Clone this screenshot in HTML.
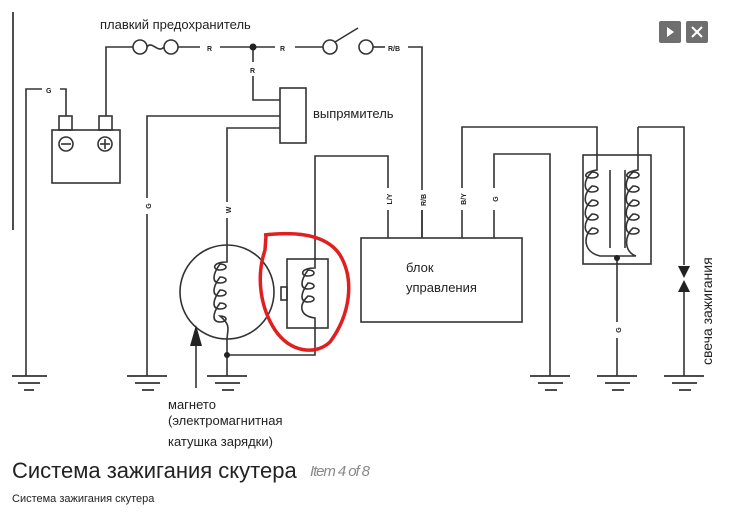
<!DOCTYPE html>
<html><head><meta charset="utf-8"><style>
html,body{margin:0;padding:0;background:#fff;width:732px;height:516px;overflow:hidden}
svg{position:absolute;left:0;top:0}
.t{font-family:"Liberation Sans","DejaVu Sans",sans-serif;fill:#222}
</style></head><body>
<svg width="732" height="516" viewBox="0 0 732 516">
<g stroke="#333" stroke-width="1.6" fill="none">
<line x1="13" y1="12" x2="13" y2="230" stroke="#222" stroke-width="1.6"/>
<!-- battery -->
<rect x="52" y="130" width="68" height="53"/>
<rect x="59" y="116" width="13" height="14"/>
<rect x="99" y="116" width="13" height="14"/>
<circle cx="66" cy="144" r="7"/><line x1="61" y1="144" x2="71" y2="144"/>
<circle cx="105" cy="144" r="7"/><line x1="100" y1="144" x2="110" y2="144"/><line x1="105" y1="139" x2="105" y2="149"/>
<polyline points="66,116 66,89 60,89"/>
<polyline points="42,89 26,89 26,376"/>
<polyline points="106,116 106,47 133,47"/>
<circle cx="140" cy="47" r="7"/><circle cx="171" cy="47" r="7"/>
<path d="M147,47 C152,40 158,54 164,47"/>
<line x1="178" y1="47" x2="200" y2="47"/><line x1="220" y1="47" x2="275" y2="47"/>
<line x1="295" y1="47" x2="323" y2="47"/>
<circle cx="330" cy="47" r="7"/><line x1="335" y1="42" x2="358" y2="28"/>
<circle cx="366" cy="47" r="7"/><line x1="373" y1="47" x2="385" y2="47"/>
<polyline points="408,47 422,47 422,190"/><line x1="422" y1="210" x2="422" y2="238"/>
<line x1="253" y1="47" x2="253" y2="62"/>
<polyline points="253,76 253,100 280,100"/>
<rect x="280" y="88" width="26" height="55"/>
<polyline points="280,116 147,116 147,198"/><line x1="147" y1="214" x2="147" y2="376"/>
<polyline points="280,128 227,128 227,202"/><line x1="227" y1="218" x2="227" y2="245"/>
<!-- control block -->
<rect x="361" y="238" width="161" height="84"/>
<polyline points="388,238 388,210"/><polyline points="388,188 388,156 315,156 315,259"/>
<line x1="422" y1="238" x2="422" y2="210"/>
<polyline points="462,238 462,210"/><polyline points="462,188 462,127 597,127 597,158"/>
<polyline points="494,238 494,210"/><polyline points="494,188 494,154 550,154 550,376"/>
<!-- ign coil -->
<rect x="583" y="155" width="68" height="109"/>
<line x1="610" y1="170" x2="610" y2="248"/><line x1="625" y1="170" x2="625" y2="248"/>
<path d="M597,158 V170 C583,172 583,178 592,178 C600,178 600,172 592,172 C583,180 583,192 592,192 C600,192 600,186 592,186 C583,194 583,206 592,206 C600,206 600,200 592,200 C583,208 583,220 592,220 C600,220 600,214 592,214 C583,222 583,234 592,234 C600,234 600,228 592,228 C583,236 583,252 600,256 H617"/>
<path d="M638,127 V170 C624,172 624,178 633,178 C641,178 641,172 633,172 C624,180 624,192 633,192 C641,192 641,186 633,186 C624,194 624,206 633,206 C641,206 641,200 633,200 C624,208 624,220 633,220 C641,220 641,214 633,214 C624,222 624,234 633,234 C641,234 641,228 633,228 C624,236 624,252 636,256 H617"/>
<polyline points="617,258 617,322"/><line x1="617" y1="338" x2="617" y2="376"/>
<polyline points="638,127 684,127 684,265"/><line x1="684" y1="292" x2="684" y2="376"/>
<!-- magneto -->
<circle cx="227" cy="292" r="47"/>
<path d="M227,245 V262 C212,262 212,270 220,270 C228,270 228,264 220,264 C212,275 212,283 220,283 C228,283 228,277 220,277 C212,288 212,296 220,296 C228,296 228,290 220,290 C212,301 212,309 220,309 C228,309 228,303 220,303 C212,314 212,322 220,322 C228,322 228,316 220,316 C232,326 227,330 227,340 V376"/>
<polyline points="227,355 315,355 315,328"/>
<line x1="196" y1="345" x2="196" y2="388"/>
<!-- pickup -->
<rect x="287" y="259" width="41" height="69"/>
<rect x="281" y="287" width="6" height="13"/>
<path d="M315,259 V268 C300,268 300,276 308,276 C316,276 316,270 308,270 C300,281 300,289 308,289 C316,289 316,283 308,283 C300,294 300,302 308,302 C316,302 316,296 308,296 C298,306 300,316 315,318 V328"/>
<!-- grounds -->
<g stroke-width="1.8">
<path d="M12,376h35M18,383h22M24,390h10"/>
<path d="M127,376h40M135,383h25M142,390h12"/>
<path d="M207,376h40M215,383h25M222,390h12"/>
<path d="M530,376h40M538,383h25M545,390h12"/>
<path d="M597,376h40M605,383h25M612,390h12"/>
<path d="M664,376h40M672,383h25M679,390h12"/>
</g>
<path d="M264,235 C290,232 325,232 340,255 C355,280 350,315 330,342 C315,356 290,352 275,330 C262,310 255,280 265,250 L266,236" stroke="#e02020" stroke-width="3.5"/>
</g>
<g fill="#222">
<circle cx="253" cy="47" r="3.5"/><circle cx="227" cy="355" r="3"/><circle cx="617" cy="258" r="3"/>
<polygon points="196,325 190,346 202,346"/>
<polygon points="678,266 690,266 684,278"/><polygon points="684,280 678,292 690,292"/>
</g>
<g class="t" font-size="7" font-weight="bold">
<text x="46" y="93">G</text><text x="207" y="51">R</text><text x="280" y="51">R</text><text x="250" y="73">R</text>
<text x="388" y="51">R/B</text>
<text transform="translate(151,206) rotate(-90)" text-anchor="middle">G</text>
<text transform="translate(231,210) rotate(-90)" text-anchor="middle">W</text>
<text transform="translate(392,199) rotate(-90)" text-anchor="middle">L/Y</text>
<text transform="translate(426,200) rotate(-90)" text-anchor="middle">R/B</text>
<text transform="translate(466,199) rotate(-90)" text-anchor="middle">B/Y</text>
<text transform="translate(498,199) rotate(-90)" text-anchor="middle">G</text>
<text transform="translate(621,330) rotate(-90)" text-anchor="middle">G</text>
</g>
<g class="t" font-size="13">
<text x="100" y="29">плавкий предохранитель</text>
<text x="313" y="118">выпрямитель</text>
<text x="406" y="272">блок</text><text x="406" y="292">управления</text>
<text x="168" y="409">магнето</text>
<text x="168" y="425">(электромагнитная</text>
<text x="168" y="446">катушка зарядки)</text>
<text transform="translate(712,365) rotate(-90)" font-size="14">свеча зажигания</text>
</g>
<text x="12" y="478" class="t" font-size="22" fill="#111">Система зажигания скутера</text>
<text x="310" y="476" font-family="Liberation Sans Narrow,Liberation Sans,sans-serif" font-style="italic" font-size="15" fill="#888" textLength="60">Item 4 of 8</text>
<text x="12" y="502" class="t" font-size="11">Система зажигания скутера</text>
<rect x="659" y="21" width="22" height="22" rx="2" fill="#6f6f6f"/>
<polygon points="667,27 667,37 674,32" fill="#fff"/>
<rect x="686" y="21" width="22" height="22" rx="2" fill="#6f6f6f"/>
<path d="M692,27l10,10M702,27l-10,10" stroke="#fff" stroke-width="2"/>
</svg>
</body></html>
